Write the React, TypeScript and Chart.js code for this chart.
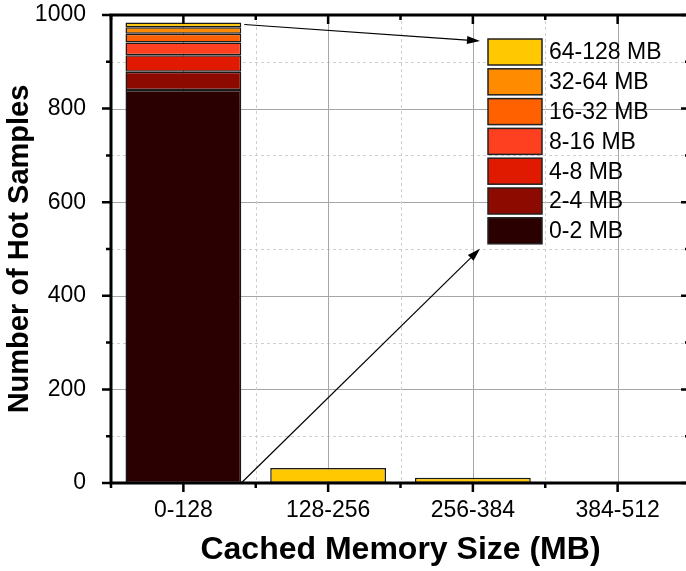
import React, { useEffect, useRef } from "react";
import { Chart, registerables } from "chart.js";

Chart.register(...registerables);

const categories = ["0-128", "128-256", "256-384", "384-512"];
const seriesLabels = ["0-2 MB", "2-4 MB", "4-8 MB", "8-16 MB", "16-32 MB", "32-64 MB", "64-128 MB"];
const s0to2 = [840, null, null, null];
const s2to4 = [39, null, null, null];
const s4to8 = [35, null, null, null];
const s8to16 = [27, null, null, null];
const s16to32 = [19, null, null, null];
const s32to64 = [14, null, null, null];
const s64to128 = [10, 32, 11, null];
const seriesValues = [s0to2, s2to4, s4to8, s8to16, s16to32, s32to64, s64to128];
const seriesColors = ["#2b0000", "#8c0a00", "#e01a00", "#ff4020", "#ff6000", "#ff8c00", "#ffc800"];
const yMin = 0;
const yMax = 1000;
const yMajorStep = 200;
const yMinorStep = 100;

const FAMILY = "'Liberation Sans', Arial, sans-serif";

const gridPlugin = {
  id: "customGrid",
  beforeDatasetsDraw(chart: any) {
    const { ctx, chartArea: a, scales } = chart;
    const ys = scales.y;
    const xs = scales.x;
    ctx.save();
    ctx.lineWidth = 1;
    for (let v = yMin + yMinorStep; v < yMax; v += yMinorStep) {
      const py = Math.round(ys.getPixelForValue(v)) + 0.5;
      const major = v % yMajorStep === 0;
      ctx.strokeStyle = major ? "#a6a6a6" : "#cfcfcf";
      ctx.setLineDash(major ? [] : [3, 3]);
      ctx.beginPath();
      ctx.moveTo(a.left, py);
      ctx.lineTo(a.right, py);
      ctx.stroke();
    }
    const n = categories.length;
    const half = (xs.getPixelForValue(1) - xs.getPixelForValue(0)) / 2;
    for (let i = 0; i < n; i++) {
      const c = xs.getPixelForValue(i);
      const px = Math.round(c) + 0.5;
      ctx.strokeStyle = "#a6a6a6";
      ctx.setLineDash([]);
      ctx.beginPath();
      ctx.moveTo(px, a.top);
      ctx.lineTo(px, a.bottom);
      ctx.stroke();
      if (i < n - 1) {
        const bx = Math.round(c + half) + 0.5;
        ctx.strokeStyle = "#cfcfcf";
        ctx.setLineDash([3, 3]);
        ctx.beginPath();
        ctx.moveTo(bx, a.top);
        ctx.lineTo(bx, a.bottom);
        ctx.stroke();
      }
    }
    ctx.restore();
  },
};

const framePlugin = {
  id: "frame",
  afterDatasetsDraw(chart: any) {
    const { ctx, chartArea: a, scales } = chart;
    const ys = scales.y;
    const xs = scales.x;
    ctx.save();
    ctx.strokeStyle = "#000";
    ctx.lineCap = "butt";
    ctx.lineWidth = 2.5;
    for (let v = yMin; v <= yMax; v += yMinorStep) {
      const py = ys.getPixelForValue(v);
      const len = v % yMajorStep === 0 ? 9 : 5;
      ctx.beginPath();
      ctx.moveTo(a.left, py);
      ctx.lineTo(a.left - len, py);
      ctx.moveTo(a.right, py);
      ctx.lineTo(a.right - len, py);
      ctx.stroke();
    }
    const n = categories.length;
    const half = (xs.getPixelForValue(1) - xs.getPixelForValue(0)) / 2;
    const xt: { x: number; major: boolean }[] = [];
    for (let i = 0; i < n; i++) {
      const c = xs.getPixelForValue(i);
      xt.push({ x: c - half, major: false });
      xt.push({ x: c, major: true });
    }
    xt.push({ x: xs.getPixelForValue(n - 1) + half, major: false });
    for (const t of xt) {
      const len = t.major ? 9 : 5;
      ctx.beginPath();
      ctx.moveTo(t.x, a.bottom);
      ctx.lineTo(t.x, a.bottom + len);
      ctx.moveTo(t.x, a.top);
      ctx.lineTo(t.x, a.top + len);
      ctx.stroke();
    }
    ctx.lineWidth = 3;
    ctx.beginPath();
    ctx.moveTo(a.left - 1.5, a.top);
    ctx.lineTo(a.right + 1.5, a.top);
    ctx.moveTo(a.left - 1.5, a.bottom);
    ctx.lineTo(a.right + 1.5, a.bottom);
    ctx.moveTo(a.left, a.top);
    ctx.lineTo(a.left, a.bottom);
    ctx.moveTo(a.right, a.top);
    ctx.lineTo(a.right, a.bottom);
    ctx.stroke();
    ctx.restore();
  },
};

function arrow(ctx: CanvasRenderingContext2D, x1: number, y1: number, x2: number, y2: number) {
  const ang = Math.atan2(y2 - y1, x2 - x1);
  const headLen = 13;
  const headW = 4;
  const bx = x2 - headLen * Math.cos(ang);
  const by = y2 - headLen * Math.sin(ang);
  ctx.beginPath();
  ctx.moveTo(x1, y1);
  ctx.lineTo(bx, by);
  ctx.stroke();
  ctx.beginPath();
  ctx.moveTo(x2, y2);
  ctx.lineTo(bx + headW * Math.sin(ang), by - headW * Math.cos(ang));
  ctx.lineTo(bx - headW * Math.sin(ang), by + headW * Math.cos(ang));
  ctx.closePath();
  ctx.fill();
}

const legendPlugin = {
  id: "insideLegend",
  afterDraw(chart: any) {
    const { ctx, chartArea: a } = chart;
    const legX = a.left + 377;
    const legY = a.top + 24;
    const row = 29.8;
    const boxW = 54;
    const boxH = 26;
    const ds = chart.data.datasets;
    ctx.save();
    ctx.font = `23px ${FAMILY}`;
    ctx.textBaseline = "middle";
    ctx.textAlign = "left";
    for (let k = 0; k < ds.length; k++) {
      const d = ds[ds.length - 1 - k];
      const y = legY + k * row;
      ctx.fillStyle = d.backgroundColor;
      ctx.fillRect(legX, y, boxW, boxH);
      ctx.lineWidth = 1.5;
      ctx.strokeStyle = "#222";
      ctx.strokeRect(legX, y, boxW, boxH);
      ctx.fillStyle = "#000";
      ctx.fillText(d.label, legX + boxW + 7, y + boxH / 2 + 1);
    }
    const topEl = chart.getDatasetMeta(ds.length - 1).data[0];
    const botEl = chart.getDatasetMeta(0).data[0];
    const tp = topEl.getProps(["x", "y", "width"], true);
    const bp = botEl.getProps(["x", "base", "width"], true);
    ctx.strokeStyle = "#000";
    ctx.fillStyle = "#000";
    ctx.lineWidth = 1.2;
    arrow(ctx, tp.x + tp.width / 2 + 3, tp.y + 2, legX - 8, legY + 2);
    arrow(ctx, bp.x + bp.width / 2, bp.base, legX - 8, legY + (ds.length - 1) * row + boxH + 5);
    ctx.restore();
  },
};

export default function App() {
  const ref = useRef<HTMLCanvasElement | null>(null);
  useEffect(() => {
    if (!ref.current) return;
    const chart = new Chart(ref.current, {
      type: "bar",
      data: {
        labels: categories,
        datasets: seriesLabels.map((label, i) => ({
          label,
          data: seriesValues[i],
          backgroundColor: seriesColors[i],
          borderColor: "#1a1a1a",
          borderWidth: 1.5,
          borderSkipped: false,
          barPercentage: 0.8,
          categoryPercentage: 1,
        })),
      },
      options: {
        animation: false,
        responsive: true,
        maintainAspectRatio: false,
        layout: { padding: { top: 15, right: 10, left: 0, bottom: 0 } },
        plugins: { legend: { display: false }, tooltip: { enabled: false } },
        scales: {
          x: {
            stacked: true,
            grid: { display: false },
            border: { display: false },
            ticks: { padding: 6, color: "#000", font: { size: 23, family: FAMILY } },
            title: {
              display: true,
              text: "Cached Memory Size (MB)",
              color: "#000",
              font: { size: 32, weight: "bold", family: FAMILY },
              padding: { top: 0, bottom: 2 },
            },
            afterFit: (s: any) => {
              s.height = 88;
              s.paddingLeft = 0;
              s.paddingRight = 0;
            },
          },
          y: {
            stacked: true,
            min: yMin,
            max: yMax,
            grid: { display: false },
            border: { display: false },
            ticks: {
              stepSize: yMajorStep,
              padding: 17,
              color: "#000",
              font: { size: 23, family: FAMILY },
              callback: (v: any) => String(v),
            },
            title: {
              display: true,
              text: "Number of Hot Samples",
              color: "#000",
              font: { size: 29, weight: "bold", family: FAMILY },
              padding: { top: 3, bottom: 0 },
            },
            afterFit: (s: any) => {
              s.width = 111;
              s.paddingTop = 0;
              s.paddingBottom = 0;
            },
          },
        },
      } as any,
      plugins: [gridPlugin, framePlugin, legendPlugin],
    });
    return () => chart.destroy();
  }, []);
  return (
    <div style={{ position: "fixed", left: 0, top: 0, width: 686, height: 571, overflow: "hidden", background: "#fff" }}>
      <div style={{ position: "relative", width: 700, height: 571 }}>
        <canvas ref={ref} />
      </div>
    </div>
  );
}
